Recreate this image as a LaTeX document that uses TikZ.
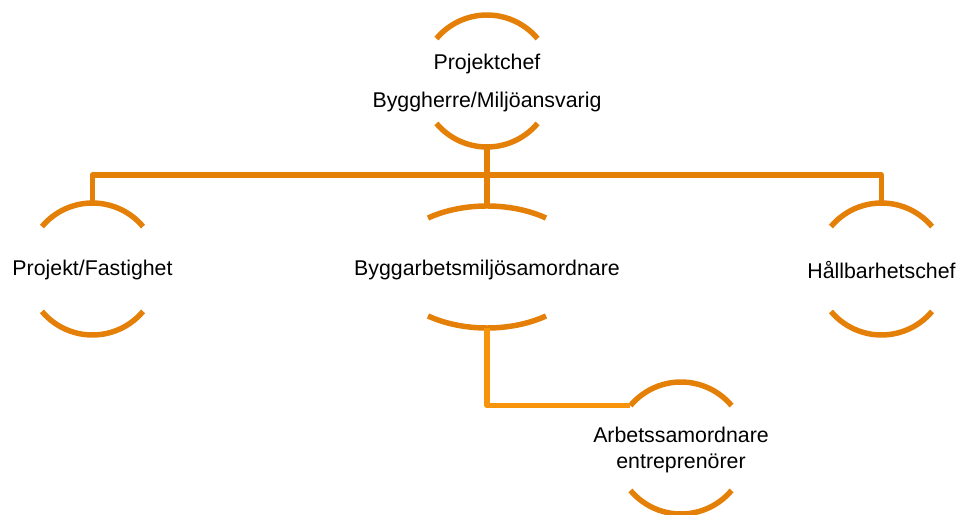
\documentclass[tikz,border=0pt]{standalone}
\usepackage{fontspec}
\setmainfont{Liberation Sans}
\usetikzlibrary{calc}
\definecolor{arcor}{RGB}{228,128,8}
\definecolor{linkor}{RGB}{247,148,12}
\begin{document}
\begin{tikzpicture}[x=0.75pt,y=0.75pt,
  arcline/.style={draw=arcor,line width=4.1pt},
  link/.style={draw=arcor,line width=4.1pt,line join=round},
  linklow/.style={draw=linkor,line width=4.1pt,line join=round},
  lbl/.style={font=\fontsize{16}{19.5}\selectfont,align=center,inner sep=0pt,text=black}]
\useasboundingbox (0,0) rectangle (960,514);
% centres
\coordinate (topc) at (487,433);
\coordinate (leftc) at (92.5,245);
\coordinate (midc) at (487,247);
\coordinate (rightc) at (881.5,245);
\coordinate (arbc) at (681,66);
% circles drawn as pairs of arcs
\foreach \c in {topc,leftc,rightc,arbc}{
  \draw[arcline] (\c) ++(140:49.5pt) arc[start angle=140,end angle=40,radius=49.5pt];
  \draw[arcline] (\c) ++(220:49.5pt) arc[start angle=220,end angle=320,radius=49.5pt];
}
\draw[arcline] (midc) ++(126.6:74.25pt and 45.75pt) arc[start angle=126.6,end angle=53.4,x radius=74.25pt,y radius=45.75pt];
\draw[arcline] (midc) ++(233.4:74.25pt and 45.75pt) arc[start angle=233.4,end angle=306.6,x radius=74.25pt,y radius=45.75pt];
% labels
\node[lbl] (topt) at (487,431) {Projektchef\\[9pt]Byggherre/Miljöansvarig};
\node[lbl] (leftt) at (92.5,244) {Projekt/Fastighet};
\node[lbl] (midt) at (487,244) {Byggarbetsmiljösamordnare};
\node[lbl] (rightt) at (881.5,244) {Hållbarhetschef};
\node[lbl] (arbt) at (681,64) {Arbetssamordnare\\entreprenörer};
% connector anchors
\coordinate (topbot) at ($(topc)+(0,-66)$);
\coordinate (lefttop) at ($(leftc)+(0,66)$);
\coordinate (righttop) at ($(rightc)+(0,66)$);
\coordinate (midtop) at (487,308);
\coordinate (midbot) at (487,186);
\coordinate (busL) at (92.5,339);
\coordinate (busR) at (881.5,339);
\coordinate (arbin) at ($(arbc)+(140:49.5pt)$);
% connectors
\draw[link] (lefttop) -- (busL) -- (busR) -- (righttop);
\draw[link] (topbot) -- (midtop);
\draw[linklow] (midbot) |- (arbin);
\end{tikzpicture}
\end{document}
